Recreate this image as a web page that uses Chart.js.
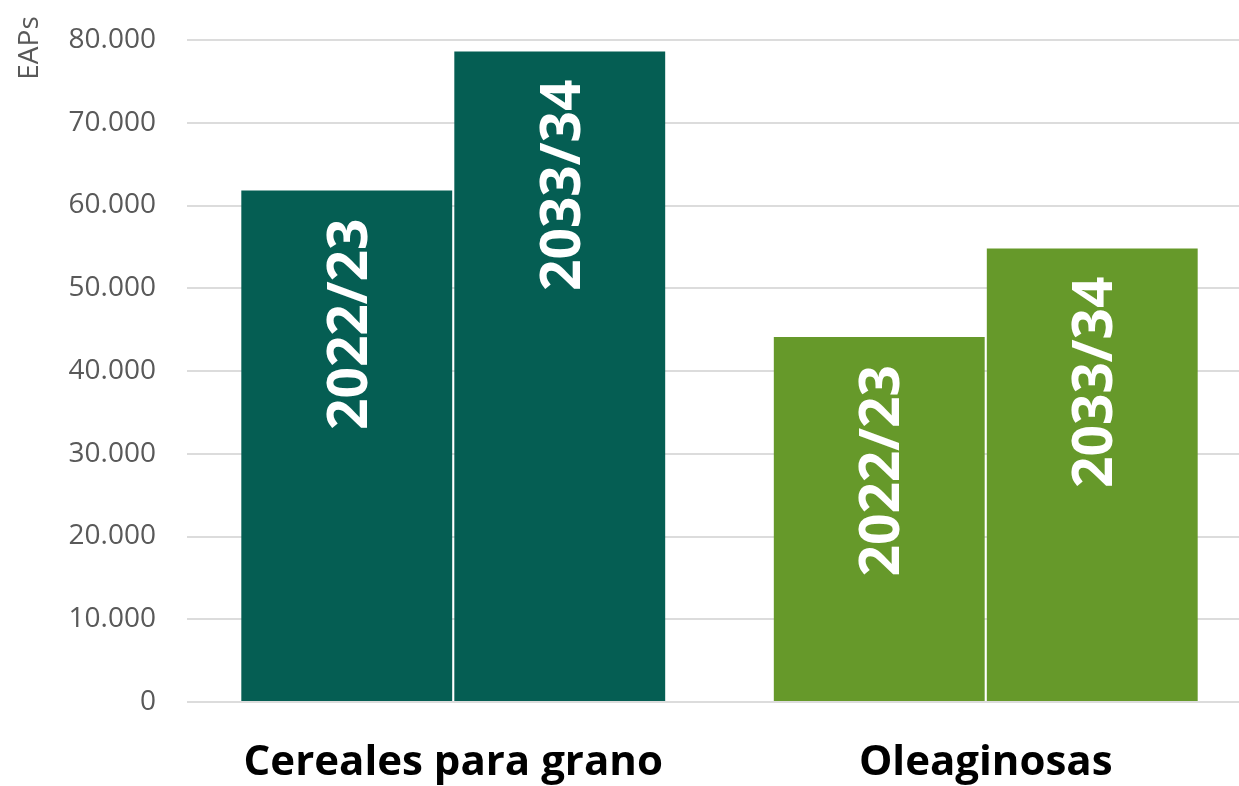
<!DOCTYPE html>
<html>
<head>
<meta charset="utf-8">
<script src="https://cdn.jsdelivr.net/npm/chart.js@4"></script>
<style>
  html, body { margin: 0; padding: 0; background: #fff; overflow: hidden; }
  #wrap { width: 1252px; height: 786px; position: relative; }
</style>
</head>
<body>
<div id="wrap"><canvas id="chart"></canvas></div>
<script>
const categories = ['Cereales para grano', 'Oleaginosas'];
const periods = ['2022/23', '2033/34'];
const values2022 = [61800, 44100];
const values2033 = [78600, 54800];
const categoryColors = ['#055e53', '#66992a'];
const yAxisTitle = 'EAPs';

const fmt = (v) => String(v).replace(/\B(?=(\d{3})+(?!\d))/g, '.');

// rotated white labels inside the bars, near the top
const barLabels = {
    id: 'barLabels',
    afterDatasetsDraw(chart) {
        const ctx = chart.ctx;
        ctx.save();
        ctx.fillStyle = '#ffffff';
        ctx.font = 'bold 55px "Open Sans"';
        ctx.textAlign = 'right';
        ctx.textBaseline = 'alphabetic';
        chart.data.datasets.forEach((ds, i) => {
            chart.getDatasetMeta(i).data.forEach((bar) => {
                ctx.save();
                ctx.translate(bar.x + 20, bar.y + 28);
                ctx.rotate(-Math.PI / 2);
                ctx.fillText(ds.label, 0, 0);
                ctx.restore();
            });
        });
        ctx.restore();
    }
};

// axis title sits at the top-left, above the plot
const axisTitle = {
    id: 'axisTitle',
    afterDraw(chart) {
        const ctx = chart.ctx;
        ctx.save();
        ctx.fillStyle = '#595959';
        ctx.font = '28px "Open Sans"';
        ctx.textAlign = 'center';
        ctx.textBaseline = 'middle';
        ctx.translate(30, 48);
        ctx.rotate(-Math.PI / 2);
        ctx.fillText(yAxisTitle, 0, 0);
        ctx.restore();
    }
};

const chart = new Chart(document.getElementById('chart').getContext('2d'), {
    type: 'bar',
    data: {
        labels: categories,
        datasets: [{
            label: periods[0],
            data: values2022,
            backgroundColor: categoryColors
        }, {
            label: periods[1],
            data: values2033,
            backgroundColor: categoryColors
        }]
    },
    options: {
        responsive: true,
        maintainAspectRatio: false,
        animation: false,
        layout: { padding: { top: 40, right: 0, left: 0, bottom: 0 } },
        datasets: {
            bar: { barPercentage: 0.99, categoryPercentage: 0.8, borderWidth: 0 }
        },
        plugins: {
            legend: { display: false },
            tooltip: { enabled: false }
        },
        scales: {
            x: {
                grid: { display: false, drawTicks: false },
                border: { display: false },
                ticks: {
                    color: '#000000',
                    font: { family: 'Open Sans', size: 42, weight: 'bold' },
                    padding: 36,
                    maxRotation: 0
                },
                afterFit(scale) { scale.height = 84; }
            },
            y: {
                min: 0,
                max: 80000,
                grid: { color: '#dcdcdc', lineWidth: 2, drawTicks: false },
                border: { display: false },
                ticks: {
                    stepSize: 10000,
                    color: '#595959',
                    font: { family: 'Open Sans', size: 28 },
                    padding: 31,
                    callback: (v) => fmt(v)
                },
                afterFit(scale) {
                    scale.width = 187;
                    scale.paddingTop = 0;
                    scale.paddingBottom = 0;
                }
            }
        }
    },
    plugins: [barLabels, axisTitle]
});
</script>
</body>
</html>
